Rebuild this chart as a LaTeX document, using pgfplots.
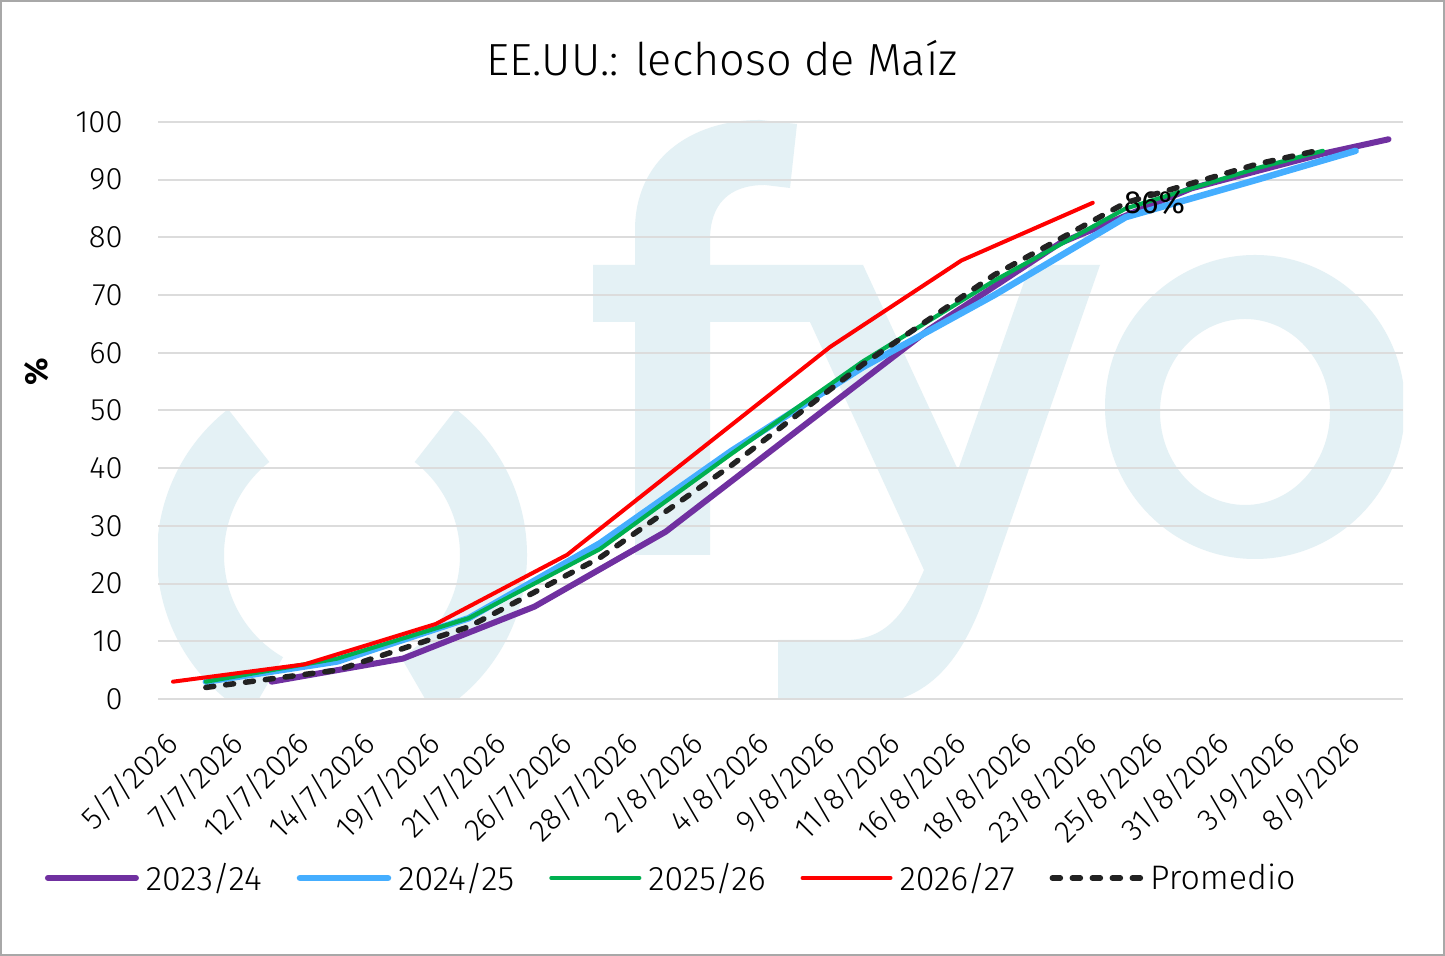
\documentclass[border=0pt]{standalone}
\usepackage{fontspec}
\setmainfont{Fira Sans}
\newfontfamily\lightfont{Fira Sans Light}
\usepackage{pgfplots}
\pgfplotsset{compat=1.18}
\definecolor{c2324}{HTML}{7030A0}
\definecolor{c2425}{HTML}{45AEFF}
\definecolor{c2526}{HTML}{00B050}
\definecolor{c2627}{HTML}{FF0000}
\definecolor{cprom}{HTML}{222222}
\definecolor{wm}{HTML}{E4F1F5}
\definecolor{gridc}{HTML}{DCDCDC}
\definecolor{framec}{HTML}{A8A8A8}

\begin{document}
\begin{tikzpicture}
\path[use as bounding box] (0,0) rectangle (722.5pt,478pt);
\fill[white] (0,0) rectangle (722.5pt,478pt);
\draw[framec, line width=0.8pt] (0.4pt,0.4pt) rectangle (722.1pt,477.6pt);
% watermark (logo) in pixel coordinates
\begin{scope}[shift={(0pt,478pt)}, x=0.5pt, y=-0.5pt]
\clip (158,110) rectangle (1403,700);
\fill[wm] ([shift={(232:185)}]342,555) arc[start angle=232, end angle=120, radius=185]
   -- ([shift={(120:118)}]342,555) arc[start angle=120, end angle=232, radius=118] -- cycle;
\fill[wm] ([shift={(-52:185)}]342,555) arc[start angle=-52, end angle=60, radius=185]
   -- ([shift={(60:118)}]342,555) arc[start angle=60, end angle=-52, radius=118] -- cycle;
\fill[wm, even odd rule] (1255,407) ellipse [x radius=150, y radius=152]
   (1245,412) ellipse [x radius=85, y radius=93];
\fill[wm] (635,555) -- (635,230) .. controls (635,160) and (690,120) .. (760,120)
   -- (797,124) -- (790,188) -- (765,185) .. controls (728,185) and (710,205) .. (710,240)
   -- (710,555) -- cycle;
\fill[wm] (593,265) -- (863,265) -- (958,470) -- (1030,265) -- (1100,265) -- (985,595)
   .. controls (960,665) and (925,705) .. (860,705) -- (778,705) -- (778,640) -- (845,640)
   .. controls (885,640) and (905,615) .. (924,570) -- (810,322) -- (593,322) -- cycle;
\end{scope}
\begin{axis}[
  at={(79pt,128.5pt)}, anchor=south west,
  scale only axis, width=622.5pt, height=288.5pt,
  xmin=-0.2283, xmax=18.721, ymin=0, ymax=100,
  xtick={0,...,18},
  xticklabels={5/7/2026,7/7/2026,12/7/2026,14/7/2026,19/7/2026,21/7/2026,26/7/2026,28/7/2026,2/8/2026,4/8/2026,9/8/2026,11/8/2026,16/8/2026,18/8/2026,23/8/2026,25/8/2026,31/8/2026,3/9/2026,8/9/2026},
  ytick={0,10,...,100},
  ymajorgrids, grid style={gridc, line width=1pt},
  axis line style={draw=none},
  major tick length=0pt,
  tick label style={font=\lightfont\fontsize{15.5}{18}\selectfont},
  xticklabel style={xshift=-5.5pt, yshift=-14.5pt, rotate=45, anchor=north east, inner sep=0pt},
  yticklabel style={inner sep=0pt, xshift=-17.5pt},
  /pgf/number format/assume math mode=true,
  legend style={at={(-0.0908,-0.3102)}, anchor=west, draw=none, fill=none,
    inner sep=0pt, outer sep=0pt, legend columns=5,
    nodes={inner sep=1.5pt, font=\lightfont\fontsize{17}{20}\selectfont},
    /tikz/every odd column/.append style={column sep=2pt},
    /tikz/every even column/.append style={column sep=16pt}},
  legend cell align=left,
  legend image code/.code={\draw[#1] (0pt,0pt) -- (44pt,0pt);},
]
\addplot[c2324, line width=3pt, line cap=round, line join=round] coordinates {
 (1.5,3) (3.5,7) (5.5,16) (7.5,29) (9.5,46.5) (11.5,64) (13.5,79) (15.5,88.5) (17.5,94.5) (18.5,97)};
\addlegendentry{2023/24}
\addplot[c2425, line width=3.25pt, line cap=round, line join=round] coordinates {
 (0.5,3) (2.5,6.5) (4.5,14) (6.5,27) (8.5,43) (10.5,57.5) (12.5,70) (14.5,83.5) (16.5,90) (18,95)};
\addlegendentry{2024/25}
\addplot[c2526, line width=2.1pt, line cap=round, line join=round] coordinates {
 (0.5,3) (2.5,7) (4.5,14) (6.5,26) (8.5,42.5) (10.5,58.5) (12.5,72.5) (14.5,85) (16.5,92) (17.5,95)};
\addlegendentry{2025/26}
\addplot[c2627, line width=2pt, line cap=round, line join=round] coordinates {
 (0,3) (2,6) (4,13) (6,25) (8,43) (10,61) (12,76) (14,86)}
 node[pos=1, anchor=west, xshift=14.5pt, inner sep=0pt, text=black, font=\fontsize{16}{19}\selectfont] {86\%};
\addlegendentry{2026/27}
\addplot[cprom, line width=2.75pt, line cap=round, line join=round, dash pattern=on 4pt off 6pt] coordinates {
 (0.5,2) (2.5,5) (4.5,12.5) (6.5,24.5) (8.5,40.5) (10.5,58) (12.5,73.5) (14.5,86) (16.5,92.7) (17.4,95)};
\addlegendentry{Promedio}
\end{axis}
\node[anchor=base, font=\lightfont\fontsize{22.5}{27}\selectfont] at (361pt,440pt) {EE.UU.: lechoso de Maíz};
\node[rotate=90, font=\bfseries\fontsize{16}{19}\selectfont] at (18.5pt,292pt) {\%};
\end{tikzpicture}
\end{document}
